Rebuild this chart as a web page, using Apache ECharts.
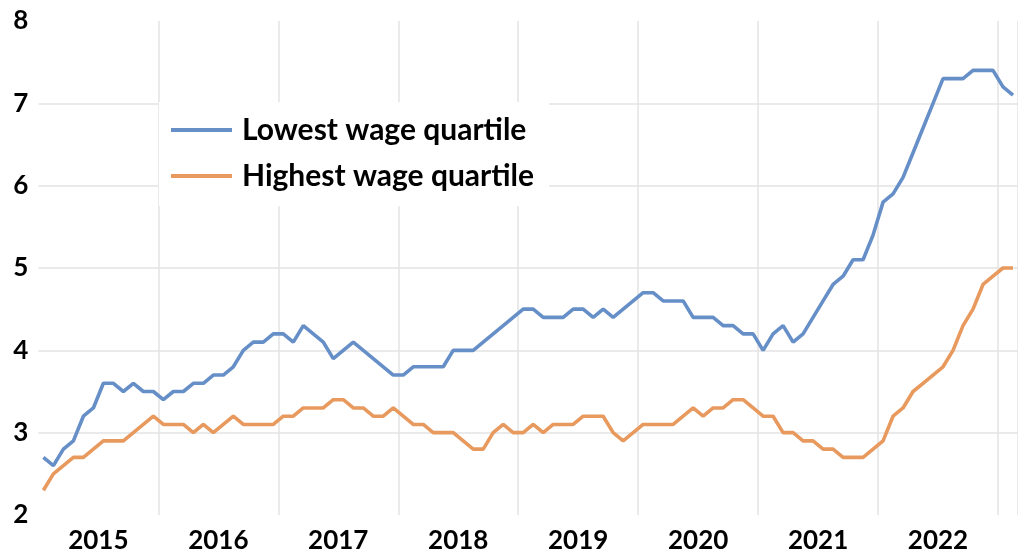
<!DOCTYPE html>
<html>
<head>
<meta charset="utf-8">
<script src="https://cdn.jsdelivr.net/npm/echarts@6/dist/echarts.min.js"></script>
<style>
  html, body { margin: 0; padding: 0; background: #fff; }
  #chart { width: 1018px; height: 557px; }
</style>
</head>
<body>
<div id="chart"></div>
<script>
// Years covered (monthly data, Jan 2015 to Feb 2023)
const years = ['2015', '2016', '2017', '2018', '2019', '2020', '2021', '2022', '2023'];
const monthNames = ['Jan', 'Feb', 'Mar', 'Apr', 'May', 'Jun', 'Jul', 'Aug', 'Sep', 'Oct', 'Nov', 'Dec'];

// Lowest wage quartile (blue)
const lowest = [
  2.7, 2.6, 2.8, 2.9, 3.2, 3.3, 3.6, 3.6, 3.5, 3.6, 3.5, 3.5,
  3.4, 3.5, 3.5, 3.6, 3.6, 3.7, 3.7, 3.8, 4.0, 4.1, 4.1, 4.2,
  4.2, 4.1, 4.3, 4.2, 4.1, 3.9, 4.0, 4.1, 4.0, 3.9, 3.8, 3.7,
  3.7, 3.8, 3.8, 3.8, 3.8, 4.0, 4.0, 4.0, 4.1, 4.2, 4.3, 4.4,
  4.5, 4.5, 4.4, 4.4, 4.4, 4.5, 4.5, 4.4, 4.5, 4.4, 4.5, 4.6,
  4.7, 4.7, 4.6, 4.6, 4.6, 4.4, 4.4, 4.4, 4.3, 4.3, 4.2, 4.2,
  4.0, 4.2, 4.3, 4.1, 4.2, 4.4, 4.6, 4.8, 4.9, 5.1, 5.1, 5.4,
  5.8, 5.9, 6.1, 6.4, 6.7, 7.0, 7.3, 7.3, 7.3, 7.4, 7.4, 7.4,
  7.2, 7.1
];

// Highest wage quartile (orange)
const highest = [
  2.3, 2.5, 2.6, 2.7, 2.7, 2.8, 2.9, 2.9, 2.9, 3.0, 3.1, 3.2,
  3.1, 3.1, 3.1, 3.0, 3.1, 3.0, 3.1, 3.2, 3.1, 3.1, 3.1, 3.1,
  3.2, 3.2, 3.3, 3.3, 3.3, 3.4, 3.4, 3.3, 3.3, 3.2, 3.2, 3.3,
  3.2, 3.1, 3.1, 3.0, 3.0, 3.0, 2.9, 2.8, 2.8, 3.0, 3.1, 3.0,
  3.0, 3.1, 3.0, 3.1, 3.1, 3.1, 3.2, 3.2, 3.2, 3.0, 2.9, 3.0,
  3.1, 3.1, 3.1, 3.1, 3.2, 3.3, 3.2, 3.3, 3.3, 3.4, 3.4, 3.3,
  3.2, 3.2, 3.0, 3.0, 2.9, 2.9, 2.8, 2.8, 2.7, 2.7, 2.7, 2.8,
  2.9, 3.2, 3.3, 3.5, 3.6, 3.7, 3.8, 4.0, 4.3, 4.5, 4.8, 4.9,
  5.0, 5.0
];

const seriesNames = ['Lowest wage quartile', 'Highest wage quartile'];
const yTicks = [2, 3, 4, 5, 6, 7, 8];

// Monthly categories built from the years
const categories = [];
years.forEach(function (y) {
  monthNames.forEach(function (m) { categories.push(m + ' ' + y); });
});
const months = categories.slice(0, lowest.length);

const FONT = 'Lato';
const chart = echarts.init(document.getElementById('chart'), null, { renderer: 'canvas' });

chart.setOption({
  animation: false,
  backgroundColor: '#ffffff',
  grid: { left: 38.4, right: -5.3, top: 21, bottom: 42, containLabel: false },
  legend: {
    data: seriesNames,
    orient: 'vertical',
    left: 159,
    top: 102,
    backgroundColor: '#ffffff',
    padding: [13, 15, 15, 12],
    itemGap: 16,
    itemWidth: 61,
    itemHeight: 4,
    icon: 'rect',
    textStyle: {
      fontFamily: FONT,
      fontWeight: 'bold',
      fontSize: 30,
      lineHeight: 30,
      color: '#000',
      padding: [0, 0, 0, 5]
    }
  },
  xAxis: {
    type: 'category',
    data: months,
    boundaryGap: true,
    axisLine: { show: false },
    axisTick: { show: false },
    splitLine: {
      show: true,
      interval: function (index) { return index > 0 && index % 12 === 0; },
      lineStyle: { color: '#e3e3e3', width: 1.5 }
    },
    axisLabel: {
      interval: function (index) { return index % 12 === 6; },
      formatter: function (value) { return value.split(' ')[1]; },
      fontFamily: FONT,
      fontWeight: 'bold',
      fontSize: 26,
      color: '#000',
      margin: 13,
      padding: [0, 10, 0, 0]
    }
  },
  yAxis: {
    type: 'value',
    min: yTicks[0],
    max: yTicks[yTicks.length - 1],
    interval: 1,
    axisLine: { show: false },
    axisTick: { show: false },
    splitLine: {
      show: true,
      showMinLine: false,
      showMaxLine: false,
      lineStyle: { color: '#e3e3e3', width: 1.5 }
    },
    axisLabel: {
      fontFamily: FONT,
      fontWeight: 'bold',
      fontSize: 26,
      color: '#000',
      margin: 10
    }
  },
  series: [
    {
      name: seriesNames[0],
      type: 'line',
      data: lowest,
      showSymbol: false,
      symbol: 'none',
      color: '#668fc8',
      lineStyle: { width: 3.6, color: '#668fc8' }
    },
    {
      name: seriesNames[1],
      type: 'line',
      data: highest,
      showSymbol: false,
      symbol: 'none',
      color: '#e8995e',
      lineStyle: { width: 3.6, color: '#e8995e' }
    }
  ]
});
</script>
</body>
</html>
